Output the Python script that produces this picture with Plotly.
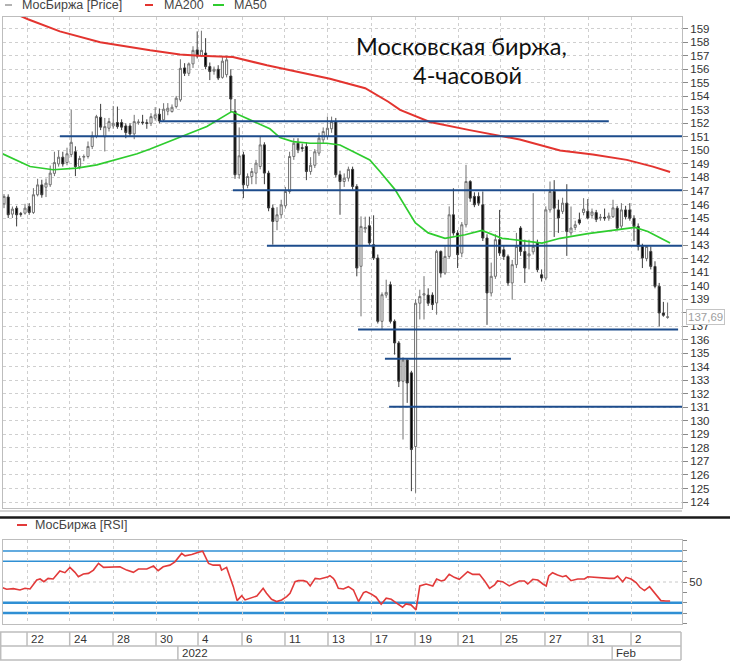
import plotly.graph_objects as go

# ---------------- data ----------------
opens = [146.05, 146.55, 145.29, 145.73, 145.32, 145.36, 145.86, 145.41, 146.72, 147.45,
         147.28, 147.46, 148.3, 149.0, 149.5, 149.1, 149.7, 149.9, 148.8, 149.5,
         149.55, 150.29, 151.03, 152.45, 151.0, 151.64, 151.81, 152.06, 152.06, 151.81,
         151.81, 151.22, 152.05, 152.1, 152.05, 152.01, 152.38, 152.68, 152.26, 152.9,
         152.87, 153.24, 153.74, 156.1, 155.7, 156.4, 157.43, 157.0, 157.2, 156.2,
         155.85, 156.0, 155.4, 155.6, 155.5, 152.9, 148.2, 149.67, 147.41, 148.07,
         148.32, 148.81, 150.41, 148.32, 145.74, 144.75, 145.24, 145.9, 146.96, 149.55,
         150.53, 150.2, 150.29, 148.44, 148.9, 149.8, 150.78, 151.03, 151.6, 152.13,
         148.2, 147.7, 147.95, 148.6, 147.33, 141.43, 144.2, 144.43, 143.03, 142.04,
         137.36, 139.3, 140.07, 137.36, 135.76, 132.93, 134.5, 133.55, 128.1, 138.7,
         139.3, 139.3, 139.3, 138.72, 142.53, 140.93, 142.16, 145.24, 143.89, 142.4,
         144.5, 147.7, 146.6, 146.6, 145.98, 143.52, 139.46, 140.69, 143.4, 142.65,
         142.16, 140.2, 141.55, 144.26, 142.53, 142.2, 142.5, 143.15, 140.8, 140.56,
         145.6, 146.96, 145.6, 145.49, 146.1, 143.9, 144.3, 144.87, 145.41, 145.5,
         145.2, 145.4, 145.0, 145.05, 145.0, 145.1, 145.73, 144.4, 145.6, 145.6,
         144.98, 144.38, 142.9, 142.0, 142.53, 141.42, 139.95, 137.98, 137.65]
highs = [146.77, 146.75, 145.85, 145.9, 145.45, 146.05, 146.1, 147.21, 147.9, 147.83,
         147.92, 148.88, 149.9, 150.0, 149.9, 150.2, 153.0, 150.3, 149.6, 149.7,
         150.66, 151.4, 152.63, 153.44, 152.4, 152.4, 153.29, 153.24, 152.3, 152.0,
         152.0, 152.63, 152.3, 152.63, 152.3, 152.75, 153.2, 153.1, 153.49, 153.5,
         153.4, 154.03, 156.74, 156.45, 156.5, 157.7, 158.8, 158.85, 158.3, 156.5,
         156.2, 156.3, 156.9, 157.0, 156.0, 153.8, 151.7, 149.9, 148.3, 148.7,
         149.3, 151.0, 150.6, 148.5, 146.0, 145.8, 146.35, 147.3, 149.9, 150.9,
         150.9, 150.5, 150.6, 149.5, 150.1, 151.3, 151.7, 152.5, 152.5, 152.4,
         148.5, 148.3, 148.8, 148.8, 147.5, 145.12, 145.1, 145.1, 145.2, 142.3,
         139.5, 140.44, 140.3, 137.5, 135.9, 134.7, 134.6, 133.7, 139.0, 139.7,
         140.7, 139.8, 139.5, 142.65, 142.6, 142.9, 145.86, 147.2, 144.1, 144.7,
         148.93, 147.8, 146.9, 146.9, 146.96, 143.8, 141.7, 143.8, 145.6, 143.0,
         142.3, 141.9, 143.9, 144.4, 143.4, 143.4, 146.84, 143.4, 141.2, 145.86,
         147.7, 147.8, 146.35, 146.5, 147.5, 145.85, 144.8, 145.4, 146.47, 146.4,
         145.7, 145.6, 145.3, 145.7, 145.4, 146.35, 145.9, 146.1, 145.9, 146.1,
         145.2, 144.6, 143.1, 143.0, 142.9, 141.8, 140.2, 138.8, 138.75]
lows = [145.73, 145.0, 145.0, 144.38, 145.1, 145.25, 145.24, 145.3, 146.6, 146.5,
        146.55, 147.3, 148.1, 148.8, 148.8, 148.9, 149.5, 148.1, 148.6, 149.2,
        149.4, 150.1, 150.9, 151.5, 149.92, 151.4, 151.6, 151.6, 151.5, 150.9,
        151.0, 150.83, 151.9, 151.9, 151.6, 151.8, 152.2, 152.0, 152.1, 152.6,
        152.8, 153.1, 153.6, 155.5, 155.5, 156.1, 156.8, 156.9, 156.0, 155.2,
        155.6, 155.2, 155.3, 155.4, 152.8, 147.9, 147.9, 146.47, 147.2, 147.5,
        147.5, 148.6, 147.5, 145.5, 143.03, 144.1, 145.0, 145.7, 146.8, 149.3,
        149.8, 149.9, 147.8, 148.2, 148.7, 149.6, 150.5, 150.8, 151.3, 148.0,
        145.24, 147.3, 147.7, 147.1, 140.69, 137.73, 143.9, 143.0, 141.9, 137.2,
        136.75, 139.1, 137.2, 134.9, 132.5, 128.62, 131.33, 124.8, 124.68, 137.5,
        137.5, 138.5, 138.2, 137.85, 140.6, 140.8, 142.0, 143.7, 141.3, 142.1,
        144.3, 146.2, 145.8, 145.9, 143.3, 137.1, 139.2, 140.5, 142.2, 141.9,
        140.0, 138.96, 141.3, 142.2, 140.2, 141.2, 142.3, 141.0, 140.3, 140.4,
        145.4, 143.6, 143.9, 145.3, 142.2, 143.7, 144.1, 144.5, 145.2, 144.9,
        145.0, 144.7, 144.8, 144.8, 144.8, 145.0, 144.1, 144.2, 144.9, 144.8,
        143.3, 142.6, 141.3, 141.8, 141.2, 139.8, 136.99, 137.7, 137.55]
closes = [146.6, 145.24, 145.66, 145.24, 145.28, 145.73, 145.41, 146.72, 147.45, 146.72,
          147.58, 148.32, 149.1, 149.5, 149.0, 149.75, 150.6, 148.8, 149.4, 149.55,
          150.29, 151.07, 152.5, 151.72, 151.76, 152.13, 152.01, 151.76, 151.72, 151.32,
          151.22, 152.13, 152.1, 152.06, 152.0, 152.5, 152.63, 152.18, 153.05, 153.12,
          153.19, 153.86, 156.07, 155.7, 156.4, 157.4, 156.98, 157.4, 156.2, 155.83,
          156.0, 155.35, 156.6, 156.7, 153.8, 148.2, 149.6, 147.46, 148.07, 148.44,
          149.06, 150.41, 148.32, 145.74, 144.75, 145.24, 145.97, 146.96, 149.55, 150.53,
          150.04, 150.15, 148.44, 148.9, 149.9, 150.9, 151.4, 151.64, 152.13, 148.2,
          147.7, 147.95, 148.6, 147.33, 141.3, 144.38, 144.3, 143.15, 142.04, 137.36,
          139.33, 139.5, 137.36, 135.76, 132.93, 134.5, 132.8, 127.88, 138.7, 139.2,
          139.4, 138.7, 138.6, 142.53, 140.93, 142.16, 145.24, 143.89, 142.29, 144.5,
          147.7, 146.47, 145.98, 146.1, 143.52, 139.46, 140.69, 143.4, 142.41, 142.16,
          140.2, 141.55, 142.9, 142.53, 141.3, 142.35, 142.9, 141.18, 140.56, 145.6,
          146.96, 145.73, 145.0, 146.1, 144.0, 144.26, 144.5, 144.63, 145.66, 145.0,
          145.45, 144.9, 145.05, 145.0, 145.15, 145.75, 144.26, 145.6, 145.1, 144.98,
          144.38, 142.9, 142.04, 142.9, 141.42, 139.95, 137.98, 137.81, 137.69]
candle_idx = list(range(len(closes)))

ma200_pos = [-1, 5.7, 13.3, 22.9, 34.8, 41.9, 46.5, 54.5, 62.6, 77.6, 86, 91.5, 94.3,
             101.4, 110.9, 122.8, 132.4, 140.2, 148.3, 154.5, 158.6]
ma200_vals = [160.6, 159.7, 158.8, 158.0, 157.4, 157.1, 157.0, 156.9, 156.3, 155.3, 154.6,
              153.6, 153.0, 152.1, 151.5, 150.8, 150.0, 149.7, 149.3, 148.8, 148.4]

ma50_pos = [-0.95, 6.2, 11.7, 17.4, 22.1, 26.9, 31.7, 34.8, 41.1, 48.3, 54.2, 58.6, 61,
            63.3, 65.7, 68.8, 72.9, 76.9, 80, 84, 87.1, 89.5, 93.1, 97.9, 101, 105, 109.8,
            113.8, 118.6, 123.3, 128.1, 132.4, 139, 147.1, 150.2, 153.3, 158.6]
ma50_vals = [149.84, 148.81, 148.57, 148.69, 148.93, 149.35, 149.75, 150.1, 150.9, 151.76,
             152.87, 152.26, 151.95, 151.6, 150.95, 150.65, 150.53, 150.53, 150.4, 149.8,
             149.3, 148.44, 147.1, 144.65, 143.9, 143.5, 143.76, 144.08, 143.5, 143.33,
             143.15, 143.5, 143.84, 144.18, 144.3, 144.0, 143.15]

rsi_pos = [-0.95, 0.63, 2.22, 3.8, 5, 6.2, 7.8, 8.6, 9.5, 10.5, 11.7, 13.3, 14.5, 15.7,
           16.9, 17.7, 18.9, 20.1, 21.3, 22.5, 23.7, 26, 27.6, 29.2, 30.8, 32, 34, 35.6,
           36.7, 37.9, 39.5, 40.7, 42.3, 43.1, 44.7, 46.3, 47.3, 48.7, 49.8, 51.4, 51.8,
           53, 54.6, 55.5, 56.6, 57.4, 58.6, 60.2, 61.7, 62.5, 63.7, 64.9, 66.1, 67.3,
           68.1, 69.3, 70.1, 71.3, 72.1, 72.9, 74.1, 75.2, 77.2, 77.6, 78.4, 78.8, 79.6,
           80.8, 82, 83.2, 84.4, 85.6,
           86.2, 87.4, 88.6, 89.8, 91, 92.2, 93.3, 94.9, 95.7, 96.9, 98.1, 99, 100.5,
           101.7, 102.1, 103, 104.1, 104.9, 106, 107.2, 108.4, 110.4, 111.6, 113.2,
           114.4, 115.6, 116.8, 117.5, 118.7, 120.3, 121.5, 122.7, 123.9, 124.7, 125.9,
           127.1, 128.3, 129.1, 129.7, 130.6, 131.8, 133, 133.8, 135, 136.6, 138.2, 139,
           141, 142.6, 144.1, 145.3, 146.1, 147.3, 148.1, 149.3, 150.5, 151.4, 152.5,
           153.7, 154.9, 156.4, 157.6, 158.6]
rsi_vals = [45.5, 43.0, 43.6, 42.3, 43.9, 43.3, 51.9, 52.9, 50.3, 53.5, 52.9, 60.6, 59.0,
            64.1, 59.3, 55.1, 57.7, 58.3, 61.5, 68.0, 64.1, 64.1, 64.7, 61.5, 59.3, 62.5,
            62.5, 65.4, 60.9, 64.7, 66.3, 69.5, 77.6, 75.3, 76.6, 78.8, 79.8, 68.0, 66.3,
            66.3, 61.5, 64.1, 45.5, 32.0, 36.8, 32.7, 34.3, 36.5, 43.9, 39.1, 33.3, 31.1,
            32.7, 35.9, 39.1, 50.3, 51.3, 51.3, 50.3, 46.2, 53.5, 52.9, 55.1, 56.1, 53.5,
            51.3, 43.9, 43.3, 45.5, 42.3, 31.1, 39.7,
            40.7, 38.5, 35.3, 28.5, 34.3, 33.3, 30.1, 25.6, 28.8, 27.9, 23.1, 46.2, 48.1,
            47.1, 46.2, 52.9, 51.0, 51.9, 57.4, 54.5, 52.6, 59.9, 57.4, 57.4, 51.3, 43.9,
            47.1, 51.0, 50.3, 46.2, 48.7, 51.0, 51.0, 48.1, 52.6, 51.9, 48.1, 46.2, 55.8,
            59.0, 56.7, 55.1, 56.1, 51.3, 52.9, 52.9, 55.1, 54.5, 53.5, 53.5, 53.5, 55.8,
            50.3, 54.5, 52.9, 49.4, 44.9, 41.7, 45.5, 39.1, 32.0, 31.7, 31.7]

level_vals = [152.15, 151.05, 147.05, 142.95, 136.75, 134.6, 131.05]
level_from = [37.1, 13.3, 54.5, 62.6, 84.3, 90.7, 91.7]
level_to = [144.0, 162.0, 162.0, 162.0, 160.5, 120.7, 162.0]

rsi_levels = [80, 70, 30, 20]

day_labels = ["22", "24", "28", "30", "4", "6", "11", "13", "17", "19", "21", "25", "27", "31", "2"]
day_pos = [5.48, 15.64, 25.95, 36.19, 46.19, 56.67, 66.9, 77.14, 87.38, 97.86, 108.1,
           118.33, 128.8, 139.05, 149.29]
month_labels = ["2022", "Feb"]
month_pos = [41.4, 144.8]

last_price = 137.69
last_price_text = "137,69"
title_lines = ["Московская биржа,", "4-часовой"]

# ---------------- geometry helpers ----------------
W, H = 730, 661


def fx(px):
    return px / W


def fy(py):
    return 1 - py / H


X_DOM = [fx(3), fx(682)]
X_RANGE = [-0.24, 161.43]
GRID = "#cfcfcf"
FRAME = "#bdbdbd"
FONT = "Liberation Sans"

fig = go.Figure()

fig.add_trace(go.Candlestick(
    x=candle_idx, open=opens, high=highs, low=lows, close=closes,
    increasing=dict(line=dict(color="#707070", width=1), fillcolor="white"),
    decreasing=dict(line=dict(color="#3c3c3c", width=1), fillcolor="black"),
    whiskerwidth=0, showlegend=False, hoverinfo="skip", xaxis="x", yaxis="y"))

fig.add_trace(go.Scatter(x=ma200_pos, y=ma200_vals, mode="lines",
                         line=dict(color="#e3342f", width=2), showlegend=False,
                         hoverinfo="skip", xaxis="x", yaxis="y"))
fig.add_trace(go.Scatter(x=ma50_pos, y=ma50_vals, mode="lines",
                         line=dict(color="#2ecc2e", width=1.7), showlegend=False,
                         hoverinfo="skip", xaxis="x", yaxis="y"))

for lv, a, b in zip(level_vals, level_from, level_to):
    fig.add_trace(go.Scatter(x=[a, b], y=[lv, lv], mode="lines",
                             line=dict(color="#1d4c8c", width=2), showlegend=False,
                             hoverinfo="skip", xaxis="x", yaxis="y"))

fig.add_trace(go.Scatter(x=rsi_pos, y=rsi_vals, mode="lines",
                         line=dict(color="#e23a3a", width=1.6), showlegend=False,
                         hoverinfo="skip", xaxis="x2", yaxis="y2"))

shapes = []
# RSI level lines
for lv in rsi_levels:
    shapes.append(dict(type="line", xref="x2 domain", x0=0, x1=1, yref="y2", y0=lv, y1=lv,
                       line=dict(color="#2f8fd4", width=1.6 if lv > 50 else 2.4), layer="below"))
shapes.append(dict(type="line", xref="x2 domain", x0=0, x1=1, yref="y2", y0=50, y1=50,
                   line=dict(color="#c8c8c8", width=1, dash="dot"), layer="below"))

# panel separator
shapes.append(dict(type="line", xref="paper", yref="paper", x0=0, x1=1, y0=fy(517.5), y1=fy(517.5),
                   line=dict(color="#1a1a1a", width=2.5)))
shapes.append(dict(type="line", xref="paper", yref="paper", x0=0, x1=fx(682), y0=fy(511), y1=fy(511),
                   line=dict(color="#d4d4d4", width=2)))

# date boxes
for py in [632, 646, 660]:
    shapes.append(dict(type="line", xref="paper", yref="paper", x0=fx(0), x1=fx(681),
                       y0=fy(py), y1=fy(py), line=dict(color="#bdbdbd", width=1.5)))
for pxv in [0.7, 681]:
    shapes.append(dict(type="line", xref="paper", yref="paper", x0=fx(pxv), x1=fx(pxv),
                       y0=fy(632), y1=fy(660), line=dict(color="#bdbdbd", width=1.5)))
for t in day_pos:
    shapes.append(dict(type="line", xref="x2", yref="paper", x0=t, x1=t,
                       y0=fy(632), y1=fy(646), line=dict(color="#bdbdbd", width=1.5)))
for t in month_pos:
    shapes.append(dict(type="line", xref="x2", yref="paper", x0=t, x1=t,
                       y0=fy(646), y1=fy(660), line=dict(color="#bdbdbd", width=1.5)))

# legend dashes
shapes.append(dict(type="line", xref="paper", yref="paper", x0=fx(5), x1=fx(12), y0=fy(5), y1=fy(5),
                   line=dict(color="#9a9a9a", width=1.5)))
shapes.append(dict(type="line", xref="paper", yref="paper", x0=fx(145), x1=fx(153), y0=fy(5), y1=fy(5),
                   line=dict(color="#e3342f", width=2)))
shapes.append(dict(type="line", xref="paper", yref="paper", x0=fx(213), x1=fx(224), y0=fy(5), y1=fy(5),
                   line=dict(color="#2ecc2e", width=2)))
shapes.append(dict(type="line", xref="paper", yref="paper", x0=fx(17), x1=fx(27), y0=fy(525), y1=fy(525),
                   line=dict(color="#e23a3a", width=2)))

annotations = []
leg_font = dict(family=FONT, size=12.5, color="#444444")
for txt, pxv, pyv in [("МосБиржа [Price]", 20, 5), ("MA200", 162, 5), ("MA50", 232, 5),
                      ("МосБиржа [RSI]", 33, 525)]:
    annotations.append(dict(text=txt, xref="paper", yref="paper", x=fx(pxv), y=fy(pyv),
                            xanchor="left", yanchor="middle", showarrow=False, font=leg_font))

annotations.append(dict(text=title_lines[0], xref="paper", yref="paper", x=fx(462), y=fy(46),
                        xanchor="center", yanchor="middle", showarrow=False,
                        font=dict(family="Lato", size=23.5, color="#111111")))
annotations.append(dict(text=title_lines[1], xref="paper", yref="paper", x=fx(467), y=fy(75),
                        xanchor="center", yanchor="middle", showarrow=False,
                        font=dict(family="Lato", size=23.5, color="#111111")))

for t, lab in zip(day_pos, day_labels):
    annotations.append(dict(text=lab, xref="x2", yref="paper", x=t, y=fy(639), xshift=2,
                            xanchor="left", yanchor="middle", showarrow=False,
                            font=dict(family=FONT, size=11.5, color="#333333")))
for t, lab in zip(month_pos, month_labels):
    annotations.append(dict(text=lab, xref="x2", yref="paper", x=t, y=fy(653), xshift=2,
                            xanchor="left", yanchor="middle", showarrow=False,
                            font=dict(family=FONT, size=11.5, color="#333333")))

annotations.append(dict(text=last_price_text, xref="paper", yref="y", x=fx(686), y=last_price,
                        xanchor="left", yanchor="middle", showarrow=False,
                        font=dict(family=FONT, size=11.5, color="#a0a0a0"),
                        bgcolor="white", bordercolor="#c4c4c4", borderwidth=1, borderpad=1))

fig.update_layout(
    template="none",
    width=W, height=H,
    margin=dict(l=0, r=0, t=0, b=0),
    paper_bgcolor="white", plot_bgcolor="white",
    showlegend=False,
    xaxis=dict(domain=X_DOM, range=X_RANGE, anchor="y", tickvals=day_pos,
               showticklabels=False, ticks="", showgrid=True, gridcolor=GRID,
               griddash="dot", gridwidth=1, zeroline=False, showline=True,
               linecolor=FRAME, mirror=True, rangeslider=dict(visible=False)),
    yaxis=dict(domain=[fy(508), fy(17)], range=[123.556, 159.865], anchor="x", side="right",
               tick0=124, dtick=1, ticks="outside", ticklen=5, tickcolor="#8a8a8a",
               tickfont=dict(family=FONT, size=11.5, color="#333333"),
               showgrid=True, gridcolor=GRID, griddash="dot", zeroline=False,
               showline=True, linecolor=FRAME, mirror=True, automargin=False),
    xaxis2=dict(domain=X_DOM, range=X_RANGE, anchor="y2", tickvals=day_pos,
                showticklabels=False, ticks="", showgrid=True, gridcolor=GRID,
                griddash="dot", zeroline=False, showline=True, linecolor=FRAME, mirror=True),
    yaxis2=dict(domain=[fy(624), fy(540)], range=[9.4, 90.6], anchor="x2", side="right",
                tickvals=[10, 20, 30, 40, 50, 60, 70, 80, 90],
                ticktext=["", "", "", "", "50", "", "", "", ""],
                ticks="outside", ticklen=4, tickcolor="#8a8a8a",
                tickfont=dict(family=FONT, size=11.5, color="#333333"),
                showgrid=False, zeroline=False, showline=True, linecolor=FRAME,
                mirror=True, automargin=False),
    shapes=shapes,
    annotations=annotations,
)

fig.write_html("out.html",
               config={"displayModeBar": False},
               post_script="document.body.style.margin='0';document.body.style.padding='0';"
                           "document.body.style.overflow='hidden';")
